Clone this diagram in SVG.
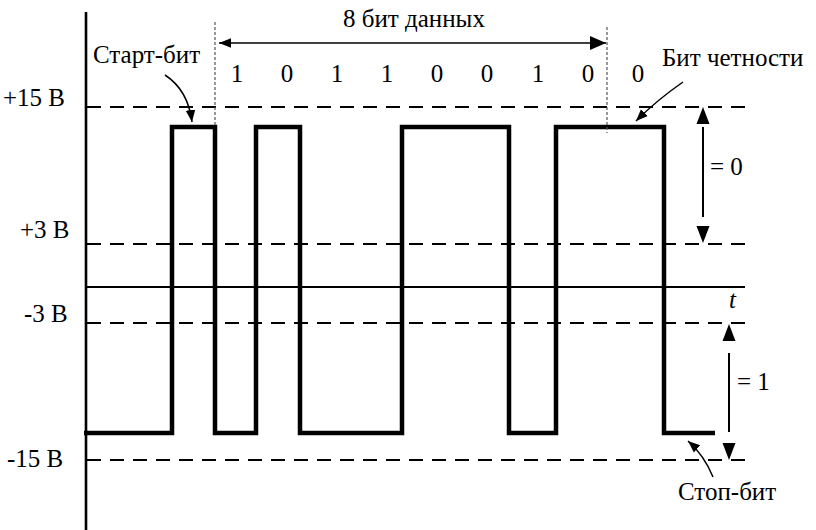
<svg xmlns="http://www.w3.org/2000/svg" width="816" height="530" viewBox="0 0 816 530">
<defs>
<marker id="ah" viewBox="0 0 10 10" refX="10" refY="5" markerWidth="12" markerHeight="12" markerUnits="userSpaceOnUse" orient="auto"><path d="M0,1 L10,5 L0,9 z" fill="#000"/></marker>
<marker id="big" viewBox="0 0 16 14" refX="16" refY="7" markerWidth="17" markerHeight="14" markerUnits="userSpaceOnUse" orient="auto"><path d="M0,0 L16,7 L0,14 z" fill="#000"/></marker>
<path id="tri-up" d="M0,0 L-6.5,17 L6.5,17 z" fill="#000"/>
<path id="tri-down" d="M0,0 L-6.5,-17 L6.5,-17 z" fill="#000"/>
</defs>
<g id="axes" stroke="#000">
<line x1="86" y1="12" x2="86" y2="530" stroke-width="2.6"/>
<line x1="86" y1="287" x2="745" y2="287" stroke-width="2"/>
</g>
<g id="levels" stroke="#000" stroke-width="2" stroke-dasharray="14 9" fill="none">
<line x1="87" y1="107" x2="745" y2="107"/>
<line x1="87" y1="244" x2="745" y2="244"/>
<line x1="87" y1="323" x2="745" y2="323"/>
<line x1="87" y1="460" x2="745" y2="460"/>
</g>
<g id="signal">
<path d="M84,433 H172 V127 H215 V433 H256 V127 H300 V433 H402 V127 H509 V433 H556 V127 H664 V433 H715" stroke="#000" stroke-width="4.5" fill="none"/>
</g>
<g id="connectors">
<g stroke="#555" stroke-width="1.2" stroke-dasharray="3 2">
<line x1="215" y1="22" x2="215" y2="127"/>
<line x1="607" y1="27" x2="607" y2="133"/>
</g>
<g stroke="#000" stroke-width="1.5" fill="none">
<line x1="236" y1="43" x2="219" y2="43" marker-end="url(#ah)"/>
<line x1="236" y1="43" x2="606" y2="43" marker-end="url(#big)"/>
<path d="M165,75 Q188,90 192,122" marker-end="url(#ah)"/>
<path d="M683,82 Q657,100 636,121" marker-end="url(#ah)"/>
<path d="M713,477 Q704,455 688,441" marker-end="url(#ah)"/>
</g>
<g stroke="#000" stroke-width="2">
<line x1="703" y1="127" x2="703" y2="217"/>
<line x1="729" y1="353" x2="729" y2="432"/>
</g>
<use href="#tri-up" x="703" y="107"/>
<use href="#tri-down" x="703" y="243"/>
<use href="#tri-up" x="729" y="324"/>
<use href="#tri-down" x="729" y="460"/>
</g>
<text id="lbl-p15" x="3" y="106" font-family="Liberation Serif" font-size="25">+15 В</text>
<text id="lbl-p3" x="20" y="238" font-family="Liberation Serif" font-size="25">+3 В</text>
<text id="lbl-m3" x="24" y="322" font-family="Liberation Serif" font-size="25">-3 В</text>
<text id="lbl-m15" x="7" y="467" font-family="Liberation Serif" font-size="25">-15 В</text>
<text id="lbl-t" x="729" y="308" font-family="Liberation Serif" font-size="25" font-style="italic">t</text>
<text id="lbl-data" x="343" y="27" font-family="Liberation Serif" font-size="25">8 бит данных</text>
<text x="237" y="82" font-family="Liberation Serif" font-size="25" text-anchor="middle">1</text>
<text x="287" y="82" font-family="Liberation Serif" font-size="25" text-anchor="middle">0</text>
<text x="337" y="82" font-family="Liberation Serif" font-size="25" text-anchor="middle">1</text>
<text x="387" y="82" font-family="Liberation Serif" font-size="25" text-anchor="middle">1</text>
<text x="437" y="82" font-family="Liberation Serif" font-size="25" text-anchor="middle">0</text>
<text x="487" y="82" font-family="Liberation Serif" font-size="25" text-anchor="middle">0</text>
<text x="538" y="82" font-family="Liberation Serif" font-size="25" text-anchor="middle">1</text>
<text x="588" y="82" font-family="Liberation Serif" font-size="25" text-anchor="middle">0</text>
<text x="638" y="82" font-family="Liberation Serif" font-size="25" text-anchor="middle">0</text>
<text id="lbl-start" x="93" y="63" font-family="Liberation Serif" font-size="25">Старт-бит</text>
<text id="lbl-parity" x="662" y="66" font-family="Liberation Serif" font-size="25">Бит четности</text>
<text id="lbl-stop" x="678" y="500" font-family="Liberation Serif" font-size="25">Стоп-бит</text>
<text id="lbl-zero" x="710" y="175" font-family="Liberation Serif" font-size="25">= 0</text>
<text id="lbl-one" x="737" y="390" font-family="Liberation Serif" font-size="25">= 1</text>
</svg>
